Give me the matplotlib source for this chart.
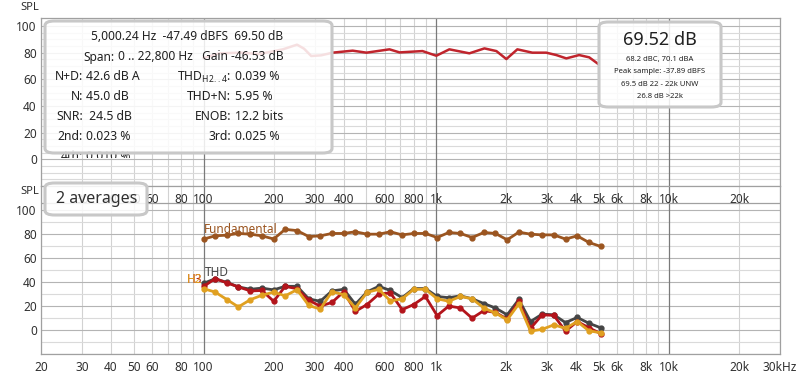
import matplotlib
matplotlib.use("Agg")
import matplotlib.pyplot as plt
from matplotlib.patches import FancyBboxPatch
from matplotlib.transforms import Bbox, TransformedBbox

plt.rcParams['font.family'] = ['Noto Sans', 'DejaVu Sans']
plt.rcParams['mathtext.fontset'] = 'custom'
plt.rcParams['mathtext.rm'] = 'Noto Sans'
plt.rcParams['mathtext.bf'] = 'Noto Sans:bold'

# ---- top graph: level trace ----
top_freq = [100, 117, 143, 174, 219, 252, 270, 290, 320, 358, 437, 501, 629, 695, 872,
            1000, 1138, 1387, 1610, 1812, 2000, 2230, 2587, 2970, 3280, 3620, 4110, 4540, 4965]
top_spl = [76.0, 79.5, 80.0, 79.0, 82.5, 86.0, 83.0, 77.5, 78.0, 80.0, 81.5, 80.0, 82.5, 80.2, 81.2,
           77.7, 82.5, 79.5, 83.2, 81.2, 75.2, 82.5, 80.0, 80.0, 78.2, 75.7, 78.2, 76.5, 71.5]

# ---- bottom graph: distortion vs frequency ----
freqs = [100, 112, 126, 141, 159, 178, 200, 224, 252, 283, 317, 356, 400, 449, 504, 566, 635,
         713, 800, 898, 1008, 1131, 1270, 1425, 1600, 1796, 2016, 2263, 2540, 2851, 3200, 3592,
         4032, 4525, 5080]
fundamental = [75.9, 78.6, 79.2, 80.6, 80.0, 78.6, 76.0, 84.0, 83.0, 78.0, 78.6, 80.6, 80.6, 82.0,
               80.0, 80.0, 82.0, 79.4, 80.6, 80.6, 77.2, 81.4, 80.6, 77.2, 81.4, 80.6, 75.3, 81.7,
               80.0, 79.4, 79.4, 75.9, 78.6, 73.1, 69.8]
thd = [39.0, 42.8, 39.7, 36.0, 34.0, 35.0, 33.5, 36.5, 36.5, 26.0, 24.0, 32.6, 34.0, 21.5, 31.8,
       36.5, 33.0, 27.0, 34.6, 34.6, 28.0, 27.0, 28.5, 26.1, 22.1, 18.4, 12.7, 25.5, 7.1, 13.3,
       12.7, 6.2, 10.5, 5.7, 1.9]
h2 = [34.5, 31.7, 25.4, 19.3, 25.4, 29.0, 31.7, 28.5, 33.7, 20.5, 17.5, 32.0, 29.5, 18.5, 31.4,
      34.0, 24.2, 26.1, 34.0, 34.0, 26.1, 24.0, 28.0, 26.1, 18.4, 14.2, 8.5, 21.8, -0.9, 0.6,
      4.3, 1.4, 7.1, -0.6, -2.3]
h3 = [36.4, 42.8, 39.4, 36.0, 32.6, 33.0, 24.0, 36.4, 34.5, 24.8, 20.0, 23.0, 32.0, 15.6, 21.3,
      30.0, 31.0, 17.0, 21.3, 28.0, 12.0, 20.0, 18.4, 9.9, 16.2, 14.7, 9.1, 24.1, 1.4, 12.7,
      12.2, -0.9, 7.1, 1.9, -2.9]

top_ticks = [30, 40, 50, 60, 80, 100, 200, 300, 400, 600, 800, 1000, 2000, 3000, 4000, 5000,
             6000, 8000, 10000, 20000]
top_labels = ['30', '40', '50', '60', '80', '100', '200', '300', '400', '600', '800', '1k', '2k',
              '3k', '4k', '5k', '6k', '8k', '10k', '20k']
bot_ticks = [20] + top_ticks + [30000]
bot_labels = ['20'] + top_labels + ['30kHz']

W, H = 800, 379
fig = plt.figure(figsize=(W / 100, H / 100), dpi=100, facecolor='white')


def rect(l, t, r, b):
    return [l / W, 1 - b / H, (r - l) / W, (b - t) / H]


def fx(px):
    return px / W


def fy(py):
    return 1 - py / H


grid_freqs = ([f for f in range(20, 100, 10)] + [f for f in range(200, 1000, 100)]
              + [f for f in range(2000, 10000, 1000)] + [20000, 30000])
decades = [100, 1000, 10000]


def style_axes(ax, ymin, ymax, minor_step, major_col):
    ax.set_xscale('log')
    ax.set_xlim(20, 30000)
    ax.set_ylim(ymin, ymax)
    ax.minorticks_off()
    for f in grid_freqs:
        ax.axvline(f, color='#d2d2d2', lw=0.8, zorder=0)
    for f in decades:
        ax.axvline(f, color='#7a7a7a', lw=0.9, zorder=0.1)
    v = -20
    while v <= 100:
        col = major_col if v % 20 == 0 else '#dadada'
        ax.axhline(v, color=col, lw=0.8, zorder=0)
        v += minor_step
    for s in ax.spines.values():
        s.set_color('#a0a0a0')
        s.set_linewidth(0.9)
    ax.tick_params(length=0, labelsize=8.5, colors='#303030', pad=5)
    ax.set_yticks([0, 20, 40, 60, 80, 100])


# bottom graph (extends up under the top graph's label row)
ax_b = fig.add_axes(rect(41, 186, 780, 354))
ax_b.set_facecolor('none')
style_axes(ax_b, -20, 120.2, 10, '#b4b4b4')
ax_b.axhline(106, color='#a0a0a0', lw=0.9)
ax_b.spines['top'].set_visible(False)
ax_b.set_xticks(bot_ticks, bot_labels)
ax_b.tick_params(axis='y', pad=3)

ax_b.plot(freqs, fundamental, color='#9b5520', lw=2, marker='o', ms=3.5, zorder=3)
ax_b.plot(freqs, thd, color='#454545', lw=2, marker='o', ms=3.5, zorder=3)
ax_b.plot(freqs, h3, color='#b3141b', lw=2, marker='o', ms=3.5, zorder=4)
ax_b.plot(freqs, h2, color='#e0a020', lw=2, marker='o', ms=3.5, zorder=5)

ax_b.annotate('Fundamental', (freqs[0], fundamental[0]), xytext=(0, 3), textcoords='offset pixels',
              ha='left', va='bottom', fontsize=8.5, color='#9b5520')
ax_b.annotate('THD', (freqs[0], thd[0]), xytext=(1, 4), textcoords='offset pixels',
              ha='left', va='bottom', fontsize=8.5, color='#454545')
# H3 and H2 labels sit on top of each other, H2 drawn last
ax_b.annotate('H3', (freqs[0], thd[0]), xytext=(-1, -3), textcoords='offset pixels',
              ha='right', va='bottom', fontsize=8.5, color='#b3141b', zorder=6)
ax_b.annotate('H2', (freqs[0], thd[0]), xytext=(-1, -3), textcoords='offset pixels',
              ha='right', va='bottom', fontsize=8.5, color='#e0a020', zorder=7)

# top graph
ax_t = fig.add_axes(rect(41, 18, 780, 186))
ax_t.set_facecolor('white')
style_axes(ax_t, -20, 106, 5, '#b4b4b4')
ax_t.set_xticks(top_ticks, top_labels)
ax_t.tick_params(axis='y', pad=3)
ax_t.plot(top_freq, top_spl, color='#c0242c', lw=1.8, zorder=3)

fig.text(fx(20), fy(8), 'SPL', fontsize=8, color='#303030', va='center')
fig.text(fx(20), fy(192), 'SPL', fontsize=8, color='#303030', va='center')


def box(l, t, r, b):
    p = FancyBboxPatch((fx(l), fy(b)), (r - l) / W, (b - t) / H,
                       boxstyle='round,pad=0,rounding_size=0.012',
                       transform=fig.transFigure, facecolor=(1, 1, 1, 0.86),
                       edgecolor='#c8c8c8', lw=2.2, zorder=2)
    fig.patches.append(p)


# info box
box(45, 21, 332, 153)
fig.text(fx(91), fy(36), '5,000.24 Hz  -47.49 dBFS  69.50 dB', fontsize=8.6, weight='bold',
         va='center', color='#202020', zorder=4)
fig.text(fx(115), fy(57), 'Span:', fontsize=8.6, ha='right', va='center', color='#202020', zorder=4)
fig.text(fx(118), fy(57), '0 .. 22,800 Hz   Gain -46.53 dB', fontsize=8.6, weight='bold',
         va='center', color='#202020', zorder=4)

rows = [('N+D:', '42.6 dB A', r'THD$_{\mathrm{H2..4}}$:', '0.039 %'),
        ('N:', '45.0 dB', 'THD+N:', '5.95 %'),
        ('SNR:', ' 24.5 dB', 'ENOB:', '12.2 bits'),
        ('2nd:', '0.023 %', '3rd:', '0.025 %')]
for i, (l1, v1, l2, v2) in enumerate(rows):
    y = fy(77 + 20 * i)
    fig.text(fx(83), y, l1, fontsize=8.8, ha='right', va='center', color='#202020', zorder=4)
    fig.text(fx(86), y, v1, fontsize=8.8, weight='bold', va='center', color='#202020', zorder=4)
    fig.text(fx(231), y, l2, fontsize=8.8, ha='right', va='center', color='#202020', zorder=4)
    fig.text(fx(235), y, v2, fontsize=8.8, weight='bold', va='center', color='#202020', zorder=4)

# fifth row is cut off by the box edge
clipbox = TransformedBbox(Bbox([[0, fy(158)], [1, 1]]), fig.transFigure)
for t in [fig.text(fx(83), fy(157), '4th:', fontsize=8.8, ha='right', va='center', color='#202020'),
          fig.text(fx(86), fy(157), '0.010 %', fontsize=8.8, weight='bold', va='center', color='#202020')]:
    t.set_clip_box(clipbox)
    t.set_clip_on(True)
    t.set_zorder(1.5)

# level box
box(599, 22, 721, 107)
fig.text(fx(660), fy(40), '69.52 dB', fontsize=13, ha='center', va='center', color='#202020', zorder=4)
for i, s in enumerate(['68.2 dBC, 70.1 dBA', 'Peak sample: -37.89 dBFS',
                       '69.5 dB 22 - 22k UNW', '26.8 dB >22k']):
    fig.text(fx(660), fy(59 + 12.5 * i), s, fontsize=5.5, ha='center', va='center',
             color='#202020', zorder=4)

# averages box
box(45, 183, 147, 215)
fig.text(fx(97), fy(199), '2 averages', fontsize=11.5, ha='center', va='center',
         color='#303030', zorder=4)

fig.savefig('out.png', dpi=100)
